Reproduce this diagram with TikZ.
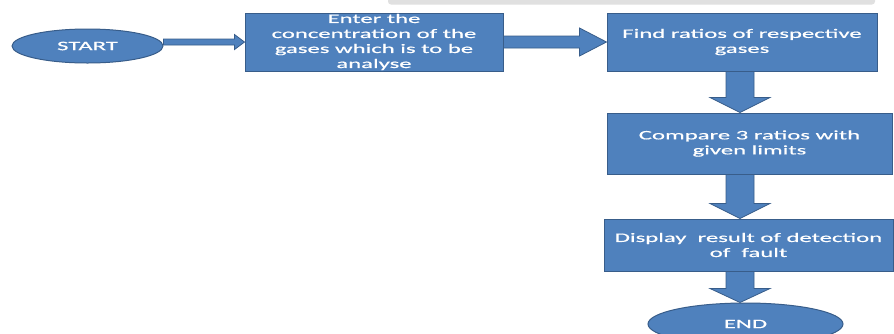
\documentclass[tikz,border=0pt]{standalone}
\usepackage{fontspec}
\setmainfont{Carlito}[FakeStretch=1.9,FakeBold=0.6]
\usetikzlibrary{shapes.geometric,calc}
\definecolor{boxblue}{HTML}{4F81BD}
\definecolor{boxedge}{HTML}{385D8A}
\definecolor{bandgray}{HTML}{E0E0E0}
\tikzset{
  procbox/.style={rectangle, draw=boxedge, line width=1pt, fill=boxblue,
    text=white, align=center, inner sep=0pt,
    font=\fontsize{13}{15}\selectfont},
  termnode/.style={ellipse, draw=boxedge, line width=1pt, fill=boxblue,
    text=white, inner sep=0pt, font=\fontsize{13}{15}\selectfont},
  blockarrow/.style={draw=boxedge, line width=0.8pt, fill=boxblue, line join=miter}
}
% horizontal block arrow: #1 from, #2 to, #3 shaft half, #4 head half, #5 head length
\newcommand{\hblockarrow}[5]{%
  \path[blockarrow] let \p1=#1, \p2=#2 in
    (\x1,\y2+#3pt) -- (\x2-#5pt,\y2+#3pt) -- (\x2-#5pt,\y2+#4pt) -- (\x2,\y2)
    -- (\x2-#5pt,\y2-#4pt) -- (\x2-#5pt,\y2-#3pt) -- (\x1,\y2-#3pt) -- cycle;}
% vertical (downward) block arrow
\newcommand{\vblockarrow}[5]{%
  \path[blockarrow] let \p1=#1, \p2=#2 in
    (\x1-#3pt,\y1) -- (\x1-#3pt,\y2+#5pt) -- (\x1-#4pt,\y2+#5pt) -- (\x1,\y2)
    -- (\x1+#4pt,\y2+#5pt) -- (\x1+#3pt,\y2+#5pt) -- (\x1+#3pt,\y1) -- cycle;}
\begin{document}
\begin{tikzpicture}[x=1pt,y=-1pt]
\useasboundingbox (0,0) rectangle (894,333);
\clip (0,0) rectangle (894,333);
\fill[white] (0,0) rectangle (894,333);
% faint gray band at the top
\fill[bandgray, rounded corners=3pt] (388,-6) rectangle (875,4.5);

\node[termnode, minimum width=151pt, minimum height=34pt] (start) at (87.5,46) {START};
\node[procbox, minimum width=258pt, minimum height=58pt] (b1) at (374,42)
  {Enter the\\concentration of the\\gases which is to be\\analyse};
\node[procbox, minimum width=270pt, minimum height=58pt] (b2) at (742,42)
  {Find ratios of respective\\gases};
\node[procbox, minimum width=285pt, minimum height=61pt] (b3) at (749.5,143.5)
  {Compare 3 ratios with\\given limits};
\node[procbox, minimum width=289pt, minimum height=52pt] (b4) at (748.5,245)
  {Display~ result of detection\\of~ fault};
\node[termnode, minimum width=195pt, minimum height=42pt] (end) at (745.5,324) {END};

\coordinate (colx) at (740,0);
\hblockarrow{(start.east |- b1.west)}{(b1.west)}{3}{7.5}{10}
\hblockarrow{(b1.east)}{(b2.west)}{6}{14}{27}
\vblockarrow{(colx |- b2.south)}{(colx |- b3.north)}{14}{30}{15}
\vblockarrow{(colx |- b3.south)}{(colx |- b4.north)}{14}{30}{15}
\vblockarrow{(colx |- b4.south)}{(colx |- end.north)}{14}{30}{14}
\end{tikzpicture}
\end{document}
